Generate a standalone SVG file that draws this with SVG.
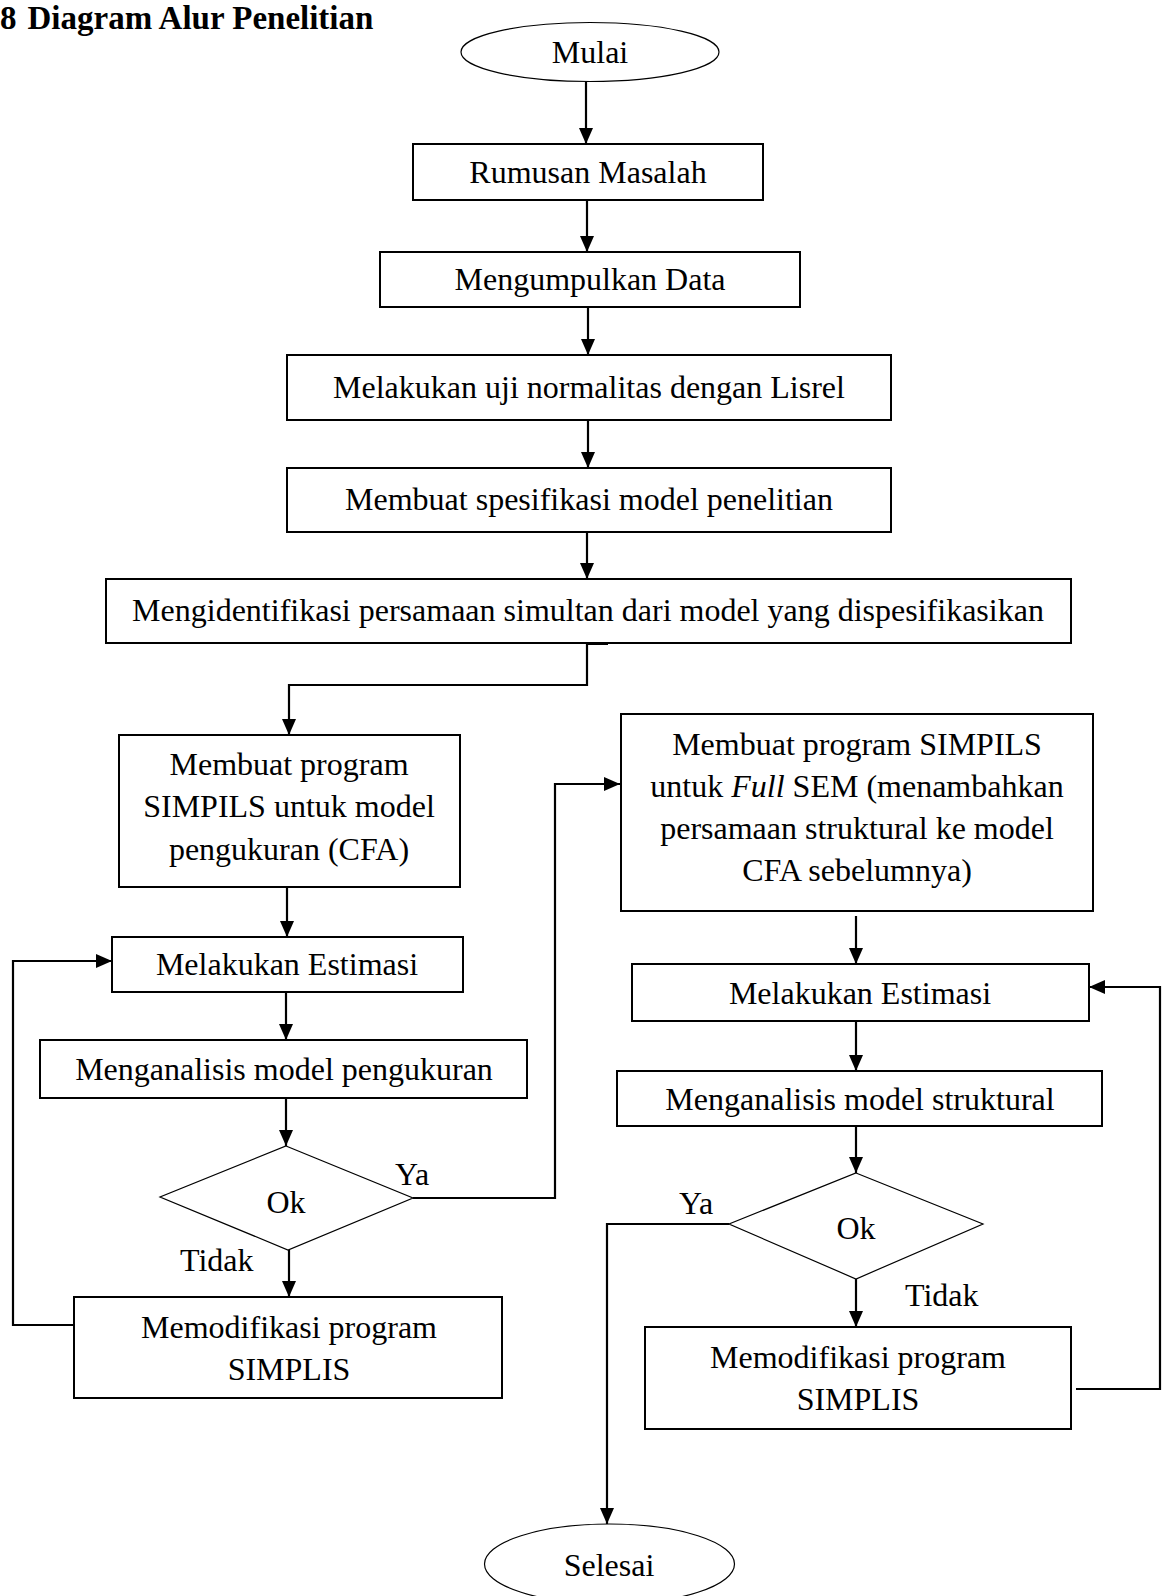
<svg xmlns="http://www.w3.org/2000/svg" width="1168" height="1596" viewBox="0 0 1168 1596">
<defs>
<style>
text{font-family:"Liberation Serif","Times New Roman",serif;font-size:32px;fill:#000;text-anchor:middle}
.title{font-weight:bold;text-anchor:start;font-size:33px}
.lbl{text-anchor:start}
.box{fill:#fff;stroke:#000;stroke-width:2}
.thin{fill:#fff;stroke:#000;stroke-width:1.2}
.conn{fill:none;stroke:#000;stroke-width:2.2}
</style>
<marker id="ah" markerUnits="userSpaceOnUse" markerWidth="16" markerHeight="14" viewBox="0 0 16 14" refX="16" refY="7" orient="auto">
<path d="M0,0 L16,7 L0,14 z" fill="#000"/>
</marker>
</defs>
<rect width="1168" height="1596" fill="#fff"/>
<text class="title" x="0" y="29">8<tspan dx="11">Diagram Alur Penelitian</tspan></text>

<g id="connectors">
<path class="conn" d="M586,81 L586,144" marker-end="url(#ah)"/>
<path class="conn" d="M587,200 L587,252" marker-end="url(#ah)"/>
<path class="conn" d="M588,307 L588,355" marker-end="url(#ah)"/>
<path class="conn" d="M588,420 L588,468" marker-end="url(#ah)"/>
<path class="conn" d="M587,532 L587,579" marker-end="url(#ah)"/>
<path class="conn" d="M608,644 L587,644 L587,685 L289,685 L289,735" marker-end="url(#ah)"/>
<path class="conn" d="M287,887 L287,937" marker-end="url(#ah)"/>
<path class="conn" d="M286,992 L286,1040" marker-end="url(#ah)"/>
<path class="conn" d="M286,1098 L286,1146" marker-end="url(#ah)"/>
<path class="conn" d="M289,1250 L289,1297" marker-end="url(#ah)"/>
<path class="conn" d="M74,1325 L13,1325 L13,961 L112,961" marker-end="url(#ah)"/>
<path class="conn" d="M413,1198 L555,1198 L555,784 L620,784" marker-end="url(#ah)"/>
<path class="conn" d="M856,916 L856,964" marker-end="url(#ah)"/>
<path class="conn" d="M856,1022 L856,1071" marker-end="url(#ah)"/>
<path class="conn" d="M856,1126 L856,1173" marker-end="url(#ah)"/>
<path class="conn" d="M856,1279 L856,1327" marker-end="url(#ah)"/>
<path class="conn" d="M1076,1389 L1160,1389 L1160,987 L1089,987" marker-end="url(#ah)"/>
<path class="conn" d="M729,1224 L607,1224 L607,1524" marker-end="url(#ah)"/>
</g>

<g id="mulai">
<ellipse class="thin" cx="590" cy="52" rx="129" ry="29.5"/>
<text x="590" y="63">Mulai</text>
</g>
<g id="rumusan">
<rect class="box" x="413" y="144" width="350" height="56"/>
<text x="588" y="183">Rumusan Masalah</text>
</g>
<g id="mengumpulkan">
<rect class="box" x="380" y="252" width="420" height="55"/>
<text x="590" y="290">Mengumpulkan Data</text>
</g>
<g id="uji">
<rect class="box" x="287" y="355" width="604" height="65"/>
<text x="589" y="398">Melakukan uji normalitas dengan Lisrel</text>
</g>
<g id="spesifikasi">
<rect class="box" x="287" y="468" width="604" height="64"/>
<text x="589" y="510">Membuat spesifikasi model penelitian</text>
</g>
<g id="identifikasi">
<rect class="box" x="106" y="579" width="965" height="64"/>
<text x="588" y="621">Mengidentifikasi persamaan simultan dari model yang dispesifikasikan</text>
</g>
<g id="cfa">
<rect class="box" x="119" y="735" width="341" height="152"/>
<text x="289" y="775">Membuat program</text>
<text x="289" y="817">SIMPILS untuk model</text>
<text x="289" y="860">pengukuran (CFA)</text>
</g>
<g id="estimasi1">
<rect class="box" x="112" y="937" width="351" height="55"/>
<text x="287" y="975">Melakukan Estimasi</text>
</g>
<g id="analisis1">
<rect class="box" x="40" y="1040" width="487" height="58"/>
<text x="284" y="1080">Menganalisis model pengukuran</text>
</g>
<g id="ok1">
<polygon class="thin" points="286,1146 413,1198 288,1250 160,1197"/>
<text x="286" y="1213">Ok</text>
<text class="lbl" x="395" y="1185">Ya</text>
<text class="lbl" x="180" y="1271">Tidak</text>
</g>
<g id="modifikasi1">
<rect class="box" x="74" y="1297" width="428" height="101"/>
<text x="289" y="1338">Memodifikasi program</text>
<text x="289" y="1380">SIMPLIS</text>
</g>
<g id="fullsem">
<rect class="box" x="621" y="714" width="472" height="197"/>
<text x="857" y="755">Membuat program SIMPILS</text>
<text x="857" y="797">untuk <tspan font-style="italic">Full</tspan> SEM (menambahkan</text>
<text x="857" y="839">persamaan struktural ke model</text>
<text x="857" y="881">CFA sebelumnya)</text>
</g>
<g id="estimasi2">
<rect class="box" x="632" y="964" width="457" height="57"/>
<text x="860" y="1004">Melakukan Estimasi</text>
</g>
<g id="analisis2">
<rect class="box" x="617" y="1071" width="485" height="55"/>
<text x="860" y="1110">Menganalisis model struktural</text>
</g>
<g id="ok2">
<polygon class="thin" points="856,1173 983,1224 856,1279 729,1224"/>
<text x="856" y="1239">Ok</text>
<text class="lbl" x="679" y="1214">Ya</text>
<text class="lbl" x="905" y="1306">Tidak</text>
</g>
<g id="modifikasi2">
<rect class="box" x="645" y="1327" width="426" height="102"/>
<text x="858" y="1368">Memodifikasi program</text>
<text x="858" y="1410">SIMPLIS</text>
</g>
<g id="selesai">
<ellipse class="thin" cx="609.5" cy="1564" rx="125" ry="40"/>
<text x="609" y="1576">Selesai</text>
</g>
</svg>
